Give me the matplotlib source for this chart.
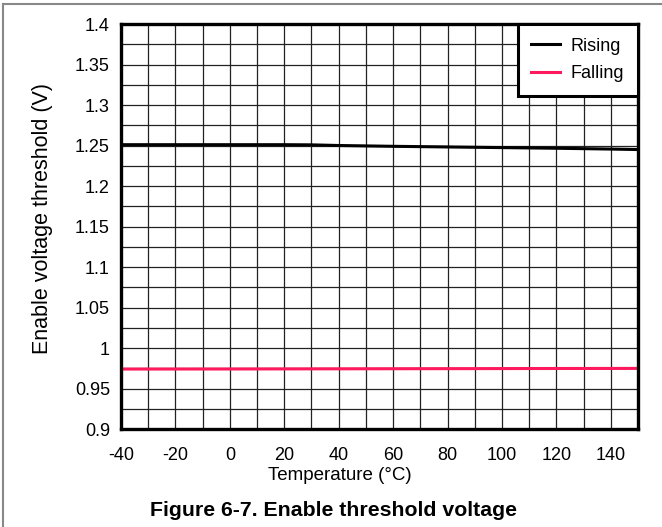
import matplotlib
matplotlib.use("Agg")
import matplotlib.pyplot as plt
from matplotlib.lines import Line2D
import numpy as np

plt.rcParams['font.family'] = ['Liberation Sans', 'DejaVu Sans']
plt.rcParams['axes.unicode_minus'] = False

temp_rising = [-40, -20, 0, 20, 30, 40, 60, 80, 100, 120, 140, 150]
v_rising = [1.2510, 1.2510, 1.2510, 1.2510, 1.2508, 1.2500, 1.2490, 1.2482, 1.2474, 1.2466, 1.2456, 1.2450]
temp_falling = [-40, 0, 40, 80, 120, 150]
v_falling = [0.9740, 0.9741, 0.9743, 0.9745, 0.9747, 0.9748]

xticks = list(range(-40, 141, 20))
xtick_labels = [str(v) for v in xticks]
yticks = [0.9, 0.95, 1.0, 1.05, 1.1, 1.15, 1.2, 1.25, 1.3, 1.35, 1.4]
ytick_labels = ['0.9', '0.95', '1', '1.05', '1.1', '1.15', '1.2', '1.25', '1.3', '1.35', '1.4']

W, H = 662, 527
fig = plt.figure(figsize=(W/100, H/100), dpi=100)
L, R, T, B = 121, 638, 24, 429
ax = fig.add_axes([L/W, 1-B/H, (R-L)/W, (B-T)/H])

ax.set_xlim(-40, 150)
ax.set_ylim(0.9, 1.4)
ax.set_xticks(xticks)
ax.set_xticklabels(xtick_labels)
ax.set_yticks(yticks)
ax.set_yticklabels(ytick_labels)
ax.set_xticks(np.arange(-40, 151, 10), minor=True)
ax.set_yticks(np.arange(0.9, 1.4001, 0.025), minor=True)
ax.grid(which='both', color='#222222', linewidth=0.9)
ax.tick_params(which='both', length=0, labelsize=13, colors='black')
ax.tick_params(axis='y', pad=8)
ax.tick_params(axis='x', pad=13)
ax.set_axisbelow(True)
for s in ax.spines.values():
    s.set_linewidth(2.4)
    s.set_color('black')

ax.plot(temp_rising, v_rising, color='black', linewidth=2.2, label='Rising')
ax.plot(temp_falling, v_falling, color='#ff1a5e', linewidth=2.2, label='Falling')

leg = ax.legend(loc='upper right', fontsize=13, frameon=True, fancybox=False,
                borderaxespad=0, handlelength=1.6, handletextpad=0.6,
                borderpad=0.75, labelspacing=0.6)
leg.get_frame().set_edgecolor('black')
leg.get_frame().set_linewidth(2.2)
leg.get_frame().set_alpha(1)

ax.set_xlabel('Temperature (°C)', fontsize=13.5)
ax.set_ylabel('Enable voltage threshold (V)', fontsize=15.5)
ax.xaxis.set_label_coords((340 - L)/(R-L), (B-476)/(B-T))
ax.xaxis.label.set_va('center')
ax.yaxis.set_label_coords((43-L)/(R-L), (B-218)/(B-T))
ax.yaxis.label.set_va('center')

fig.text(334/W, 1-510/H, 'Figure 6-7. Enable threshold voltage', ha='center', va='center',
         fontsize=15.3, fontweight='bold')

fig.add_artist(Line2D([3/W, 1], [1-4/H, 1-4/H], color='#888888', linewidth=1.5, transform=fig.transFigure))
fig.add_artist(Line2D([3/W, 3/W], [0, 1-4/H], color='#888888', linewidth=1.5, transform=fig.transFigure))

fig.savefig('out.png', dpi=100)
